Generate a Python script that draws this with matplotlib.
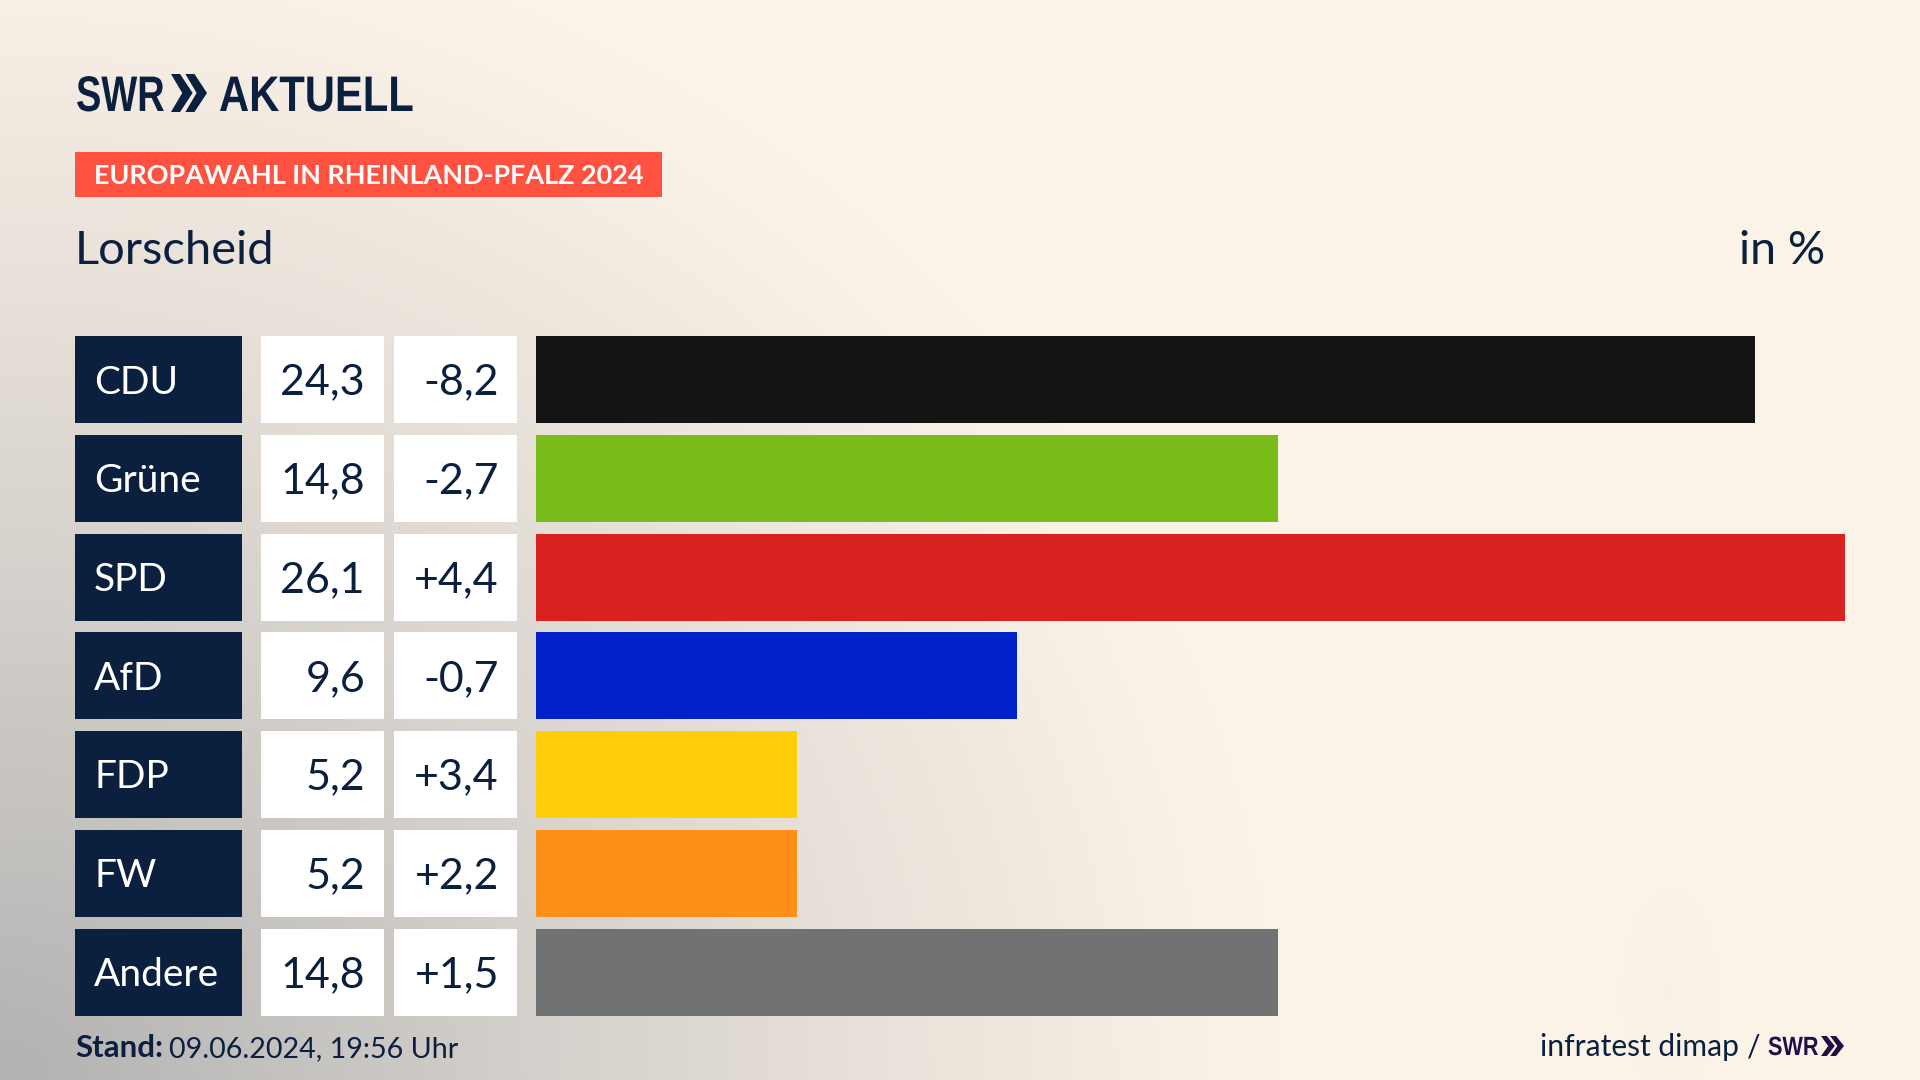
import numpy as np
import matplotlib
matplotlib.use("Agg")
import matplotlib.pyplot as plt
from matplotlib.patches import Rectangle, Polygon
from matplotlib.patheffects import AbstractPathEffect
from matplotlib.transforms import Affine2D

parties = ["CDU", "Grüne", "SPD", "AfD", "FDP", "FW", "Andere"]
shares = [24.3, 14.8, 26.1, 9.6, 5.2, 5.2, 14.8]
changes = ["-8,2", "-2,7", "+4,4", "-0,7", "+3,4", "+2,2", "+1,5"]
colors = ["#141414", "#7ABD1B", "#D9211F", "#0022C8", "#FFCD0A", "#FF8F17", "#717274"]
share_labels = ["24,3", "14,8", "26,1", "9,6", "5,2", "5,2", "14,8"]

NAVY = "#0B1F3F"
W, H = 1920, 1080
fig = plt.figure(figsize=(W / 100, H / 100), dpi=100)

page = fig.add_axes([0, 0, 1, 1])
page.set_xlim(0, W); page.set_ylim(H, 0); page.axis("off")

# background wash
yy, xx = np.mgrid[0:H:4, 0:W:4]
base = np.array([252, 243, 232.0])
grey = np.array([178, 178, 178.0])
r = np.sqrt((xx / 1270.0) ** 2 + ((H - yy) / 1170.0) ** 2)
d = np.clip(1 - r, 0, 1) ** 1.12
d += 0.05 * np.exp(-(((xx - 1668) / 8.0) ** 2 + ((yy - 992) / 18.0) ** 2))
d = np.clip(d, 0, 1)[..., None]
img = (base * (1 - d) + grey * d) / 255
page.imshow(img, extent=(0, W, H, 0), aspect="auto", zorder=0, interpolation="bilinear")
page.set_xlim(0, W); page.set_ylim(H, 0)

BODY = "Lato"
LOGO = "Liberation Sans"


class Narrow(AbstractPathEffect):
    """Squeeze a text horizontally around its own left edge."""

    def __init__(self, x_px, sx):
        super().__init__()
        self.x_px, self.sx = x_px, sx

    def draw_path(self, renderer, gc, tpath, affine, rgbFace=None):
        t = affine + Affine2D().translate(-self.x_px, 0).scale(self.sx, 1).translate(self.x_px, 0)
        renderer.draw_path(gc, tpath, t, rgbFace)


def chevrons(x0, y0, w, h, color):
    cw = w * 0.60
    for off in (0, w - cw):
        pts = [(x0 + off, y0), (x0 + off + cw * 0.42, y0), (x0 + off + cw, y0 + h / 2),
               (x0 + off + cw * 0.42, y0 + h), (x0 + off, y0 + h), (x0 + off + cw * 0.52, y0 + h / 2)]
        page.add_patch(Polygon(pts, closed=True, fc=color, ec="none", zorder=3))


def narrow_text(x, y, s, size, sx, color):
    page.text(x, y, s, family=LOGO, weight="bold", fontsize=size, color=color, va="baseline", ha="left",
              zorder=3, path_effects=[Narrow(x, sx)])


# header
narrow_text(76, 111, "SWR", 36, 0.76, NAVY)
chevrons(171, 74, 36, 38, NAVY)
narrow_text(219, 111, "AKTUELL", 36, 0.835, NAVY)
page.add_patch(Rectangle((75, 152), 587, 45, fc="#FF5240", ec="none", zorder=2))
page.text(94, 184, "EUROPAWAHL IN RHEINLAND-PFALZ 2024", family=BODY, weight="bold", fontsize=19.45,
          color="white", va="baseline", ha="left", zorder=3)
page.text(75, 264, "Lorscheid", family=BODY, fontsize=33.8, color=NAVY, va="baseline", ha="left", zorder=3)
page.text(1825, 264, "in %", family=BODY, fontsize=33.6, color=NAVY, va="baseline", ha="right", zorder=3)

# rows
ROW_TOP, ROW_STEP, ROW_H = 336.0, 98.75, 87.0
n = len(parties)
y_pos = np.arange(n)
bar_h = ROW_H / ROW_STEP
ax_top = ROW_TOP - (ROW_STEP - ROW_H) / 2
ax_bot = ax_top + ROW_STEP * n
X0, X1 = 536, 1845
ax = fig.add_axes([X0 / W, 1 - ax_bot / H, (X1 - X0) / W, (ax_bot - ax_top) / H])
ax.patch.set_alpha(0)
ax.barh(y_pos, shares, height=bar_h, color=colors, linewidth=0)
ax.set_xlim(0, max(shares)); ax.set_ylim(n - 0.5, -0.5)
ax.axis("off")

for i in range(n):
    top = ROW_TOP + i * ROW_STEP
    mid = top + ROW_H / 2
    page.add_patch(Rectangle((75, top), 167, ROW_H, fc=NAVY, ec="none", zorder=2))
    page.add_patch(Rectangle((261, top), 123, ROW_H, fc="white", ec="none", zorder=2))
    page.add_patch(Rectangle((394, top), 123, ROW_H, fc="white", ec="none", zorder=2))
    base_y = mid + 14
    page.text(94, base_y, parties[i], family=BODY, fontsize=28, color="white", va="baseline", ha="left", zorder=3)
    page.text(365, base_y + 1, share_labels[i], family=BODY, fontsize=31, color=NAVY, va="baseline", ha="right", zorder=3)
    page.text(499, base_y + 1, changes[i], family=BODY, fontsize=31, color=NAVY, va="baseline", ha="right", zorder=3)

# footer
page.text(75, 1057, "Stand:", family=BODY, weight="bold", fontsize=22.5, color=NAVY, va="baseline", ha="left", zorder=3)
page.text(169, 1057, "09.06.2024, 19:56 Uhr", family=BODY, fontsize=20.6, color=NAVY, va="baseline", ha="left", zorder=3)
page.text(1739, 1056, "infratest dimap", family=BODY, fontsize=21.6, color=NAVY, va="baseline", ha="right", zorder=3)
page.text(1760, 1056, "/", family=BODY, fontsize=21.6, color=NAVY, va="baseline", ha="right", zorder=3)
narrow_text(1768, 1055, "SWR", 19, 0.82, "#1E0F46")
chevrons(1821, 1036, 23, 20, "#1E0F46")

fig.savefig("out.png", dpi=100)
